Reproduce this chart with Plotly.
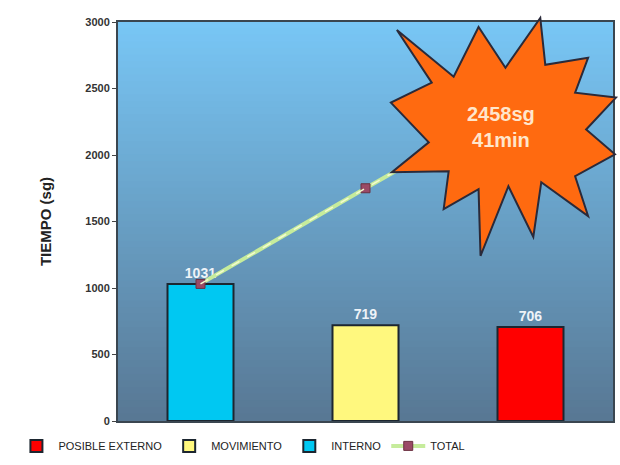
import plotly.graph_objects as go

# ---- data ----
categories = ["INTERNO", "MOVIMIENTO", "POSIBLE EXTERNO"]
interno = [1031]
movimiento = [719]
externo = [706]
total = [1031, 1750, 2456]
y_ticks = [0, 500, 1000, 1500, 2000, 2500, 3000]
burst_text = "2458sg<br>41min"

# ---- layout geometry (pixels) ----
W, H = 620, 465
L, R, T, B = 118, 5, 22, 42
PW, PH = W - L - R, H - T - B

def px(x):
    return (x - L) / PW

def py(y):
    return (H - B - y) / PH

FONT = "Liberation Sans Narrow, Liberation Sans, Arial"

fig = go.Figure()

fig.add_trace(go.Bar(
    x=[categories[2]], y=externo, name="POSIBLE EXTERNO",
    marker=dict(color="#ff0000", line=dict(color="#1c2630", width=2)),
    text=["<b>%d</b>" % v for v in externo], textposition="outside",
    textfont=dict(color="#eef3f8", size=14, family=FONT),
    width=0.4, cliponaxis=False,
))
fig.add_trace(go.Bar(
    x=[categories[1]], y=movimiento, name="MOVIMIENTO",
    marker=dict(color="#fff87e", line=dict(color="#1c2630", width=2)),
    text=["<b>%d</b>" % v for v in movimiento], textposition="outside",
    textfont=dict(color="#eef3f8", size=14, family=FONT),
    width=0.4, cliponaxis=False,
))
fig.add_trace(go.Bar(
    x=[categories[0]], y=interno, name="INTERNO",
    marker=dict(color="#00c8f2", line=dict(color="#1c2630", width=2)),
    text=["<b>%d</b>" % v for v in interno], textposition="outside",
    textfont=dict(color="#eef3f8", size=14, family=FONT),
    width=0.4, cliponaxis=False,
))
fig.add_trace(go.Scatter(
    x=categories, y=total, name="TOTAL", mode="lines+markers",
    line=dict(color="#c6ec9c", width=4),
    marker=dict(symbol="square", size=9, color="#9a4a66",
                line=dict(color="#6a3040", width=1)),
))
fig.add_trace(go.Scatter(
    x=categories, y=total, mode="lines", showlegend=False, hoverinfo="skip",
    line=dict(color="#f4fbd0", width=1.5, dash="dash"),
))

# gradient background of the plot area
shapes = []
N = 60
top = (120, 198, 245)
bot = (88, 120, 148)
for i in range(N):
    t = i / (N - 1)
    c = tuple(int(round(top[k] + (bot[k] - top[k]) * t)) for k in range(3))
    shapes.append(dict(
        type="rect", xref="paper", yref="paper", layer="below",
        x0=0, x1=1, y0=1 - (i + 1) / N, y1=1 - i / N + 0.002,
        fillcolor="rgb(%d,%d,%d)" % c, line=dict(width=0),
    ))

# starburst callout
star = [(398, 30), (455, 77), (480, 27), (507, 68), (542, 18), (547, 65),
        (590, 58), (577, 93), (618, 98), (588, 130), (617, 155), (577, 177),
        (590, 217), (543, 183), (535, 238), (510, 187), (482, 257), (480, 190),
        (445, 210), (450, 172), (393, 173), (430, 143), (392, 103), (433, 83)]
path = "M " + " L ".join("%.4f,%.4f" % (px(x), py(y)) for x, y in star) + " Z"
shapes.append(dict(
    type="path", path=path, xref="paper", yref="paper", layer="above",
    fillcolor="#ff6a10", line=dict(color="#2a2a3a", width=2),
))

fig.update_layout(
    width=W, height=H,
    margin=dict(l=L, r=R, t=T, b=B),
    paper_bgcolor="white",
    plot_bgcolor="rgba(0,0,0,0)",
    barmode="overlay",
    shapes=shapes,
    font=dict(family=FONT, color="#333333"),
    showlegend=True,
    legend=dict(
        orientation="h", x=px(14), xanchor="left", y=py(448), yanchor="middle",
        font=dict(size=11, family=FONT, color="#222222"),
        traceorder="normal", itemwidth=34,
    ),
    annotations=[dict(
        text="<b>" + burst_text + "</b>", x=px(503), y=py(128),
        xref="paper", yref="paper", showarrow=False,
        xanchor="center", yanchor="middle",
        font=dict(size=20, color="#ffe6cc", family=FONT),
    )],
)
fig.update_xaxes(
    categoryorder="array", categoryarray=categories,
    showticklabels=False, ticks="", showgrid=False, zeroline=False,
    showline=True, mirror=True, linecolor="#3a4650", linewidth=2,
)
fig.update_yaxes(
    range=[0, 3000], tickvals=y_ticks, ticktext=["<b>%d</b>" % v for v in y_ticks],
    ticks="outside", ticklen=4, tickcolor="#444444",
    showgrid=False, zeroline=False,
    showline=True, mirror=True, linecolor="#3a4650", linewidth=2,
    tickfont=dict(size=11, family=FONT, color="#333333"),
    title=dict(text="<b>TIEMPO (sg)</b>", font=dict(size=15, family=FONT, color="#222222"),
               standoff=30),
)

fig.write_html("out.html")
